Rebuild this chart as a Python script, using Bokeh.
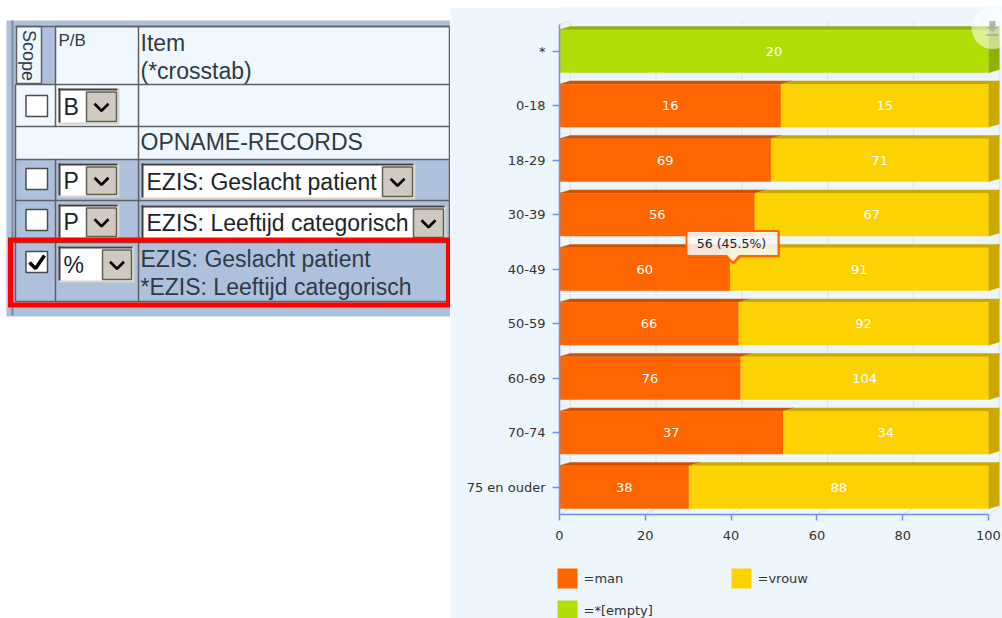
from bokeh.plotting import figure
from bokeh.layouts import row, column
from bokeh.models import Range1d, FixedTicker
from bokeh.core.properties import value
from bokeh.embed import file_html
from bokeh.resources import INLINE

# ---------- chart data ----------
categories = ["*", "0-18", "18-29", "30-39", "40-49", "50-59", "60-69", "70-74", "75 en ouder"]
man = [0, 16, 69, 56, 60, 66, 76, 37, 38]
vrouw = [0, 15, 71, 67, 91, 92, 104, 34, 88]
empty = [20, 0, 0, 0, 0, 0, 0, 0, 0]
x_ticks = [0, 20, 40, 60, 80, 100]
legend_labels = ["=man", "=vrouw", "=*[empty]"]
tooltip_text = "56 (45.5%)"

# ---------- table texts ----------
scope_label = "Scope"
pb_label = "P/B"
item_label = ["Item", "(*crosstab)"]
section_label = "OPNAME-RECORDS"
select_1 = "EZIS: Geslacht patient"
select_2 = "EZIS: Leeftijd categorisch"
crosstab_label = ["EZIS: Geslacht patient", "*EZIS: Leeftijd categorisch"]

BG = "#eef6fd"
BLUE = "#adc1dc"
LIGHT = "#eff7ff"
LINE = "#5d6166"
TXT = "#2f3a44"
ORANGE, YELLOW, GREEN = "#ff6600", "#fcd202", "#b0de09"
D_ORANGE, D_YELLOW, D_GREEN = "#cc5200", "#caa802", "#8db107"
AXIS = "#6e8ff5"
GRIDC = "#dfe5ea"
FONT = value("Liberation Sans")
CFONT = value("DejaVu Sans")

# ---------- left: the form table ----------
t = figure(width=450, height=618, x_range=Range1d(0, 450), y_range=Range1d(618, 0),
           toolbar_location=None, output_backend="svg", min_border=0, frame_align=False,
           background_fill_color="white", border_fill_color="white", outline_line_color=None)
t.axis.visible = False
t.grid.visible = False


def box(x0, x1, y0, y1, fill, line=None, lw=1.0):
    t.quad(left=[x0], right=[x1], top=[y0], bottom=[y1], fill_color=fill,
           line_color=line, line_width=lw)


def txt(x, y, s, size=23, color=TXT, angle=0.0, align="left"):
    t.text(x=[x], y=[y], text=[s], text_font=FONT, text_font_size=f"{size}px",
           text_color=color, text_baseline="middle", text_align=align, angle=angle)


def hline(x0, x1, y, c=LINE, lw=1.5):
    t.line([x0, x1], [y, y], line_color=c, line_width=lw)


def vline(x, y0, y1, c=LINE, lw=1.5):
    t.line([x, x], [y0, y1], line_color=c, line_width=lw)


def checkbox(y0, checked=False):
    box(25.5, 47, y0, y0 + 21, "white", "#4a4d50", 1.5)
    if checked:
        t.line([29, 35, 44], [y0 + 11, y0 + 17, y0 + 4], line_color="black", line_width=3.5)


def select(x0, x1, y0, y1, bx0, s):
    box(x0, x1 + 2, y0, y1 + 2, "#d8d4cc")
    box(x0 + 1, x1, y0, y1, "white")
    hline(x0, x1, y0 + 1, "#3f3f3f", 2)
    vline(x0 + 1, y0, y1, "#3f3f3f", 2)
    box(bx0, x1 - 1, y0 + 3.5, y1 - 1, "#cfc9c0", "#5f5f5a", 1.5)
    cx = (bx0 + x1 - 1) / 2
    cy = (y0 + 3.5 + y1 - 1) / 2
    t.line([cx - 7, cx, cx + 7], [cy - 3, cy + 4, cy - 3], line_color="black", line_width=2.6)
    txt(x0 + 5, (y0 + y1) / 2 + 1, s, 23, "#20242a")


# panel and cells
box(6, 450, 20, 316, BLUE)
vline(12, 20, 315, "#7e8a99", 2)
box(55, 138, 26, 84, LIGHT)
box(138, 449, 26, 84, LIGHT)
box(16, 41, 26, 83, LIGHT, LINE, 1.5)
box(15, 449, 84, 159, LIGHT)
for y in [26, 84, 126, 159, 200, 242, 301]:
    hline(15, 449, y)
hline(55, 449, 26)
vline(15, 84, 301)
vline(449, 26, 301)
vline(55, 26, 126)
vline(55, 159, 301)
vline(138, 26, 301)

# header text
t.text(x=[28], y=[55], text=[scope_label], text_font=FONT, text_font_size="18px", text_color=TXT,
       text_align="center", text_baseline="middle", angle=[-1.5708])
txt(58, 40, pb_label, 17)
txt(140, 42, item_label[0])
txt(140, 70, item_label[1])
txt(140, 141, section_label)

# controls
checkbox(95)
checkbox(168)
checkbox(209)
checkbox(251, True)
select(58, 117, 88, 122, 86, "B")
select(58, 117, 163, 195, 86, "P")
select(58, 117, 204, 237, 86, "P")
select(58, 132, 246, 280, 102, "%")
select(141, 413, 163, 197, 382, select_1)
select(141, 444, 205, 238, 413, select_2)
txt(140, 258, crosstab_label[0])
txt(140, 286, crosstab_label[1])

# red highlight
t.quad(left=[10], right=[448], top=[239.5], bottom=[304.5], fill_color=None,
       line_color="#ff0000", line_width=5, line_join="miter")

# ---------- right: the chart ----------
depth_x = 2.5
depth_y = 0.06
bar_h = 0.79
ys = list(range(len(categories)))

c = figure(width=552, height=544, x_range=Range1d(0, 443 / 4.29), y_range=Range1d(8.5, -0.803),
           toolbar_location=None, output_backend="svg", frame_align=False,
           min_border_left=109, min_border_right=0, min_border_top=0, min_border_bottom=37,
           background_fill_color=BG, border_fill_color=BG, outline_line_color=None,
           margin=(7, 0, 0, 0))
c.grid.visible = False

# back wall lines
for v in x_ticks:
    c.line([v + depth_x, v + depth_x, v], [-0.555, 8.38, 8.5], line_color=GRIDC, line_width=1.2)
c.line([0, depth_x], [-0.5, -0.555], line_color=GRIDC, line_width=1.2)

pct_man = [100 * m / (m + w + e) for m, w, e in zip(man, vrouw, empty)]
pct_vrouw = [100 * w / (m + w + e) for m, w, e in zip(man, vrouw, empty)]
pct_empty = [100 * e / (m + w + e) for m, w, e in zip(man, vrouw, empty)]


def top_face(x0, x1, y, col):
    t0 = y - bar_h / 2
    c.patch([x0, x0 + depth_x, x1 + depth_x, x1], [t0, t0 - depth_y, t0 - depth_y, t0],
            fill_color=col, line_color=col, line_width=0.5)


def side_face(x1, y, col):
    t0, b0 = y - bar_h / 2, y + bar_h / 2
    c.patch([x1, x1 + depth_x, x1 + depth_x, x1],
            [t0, t0 - depth_y, b0 - depth_y, b0],
            fill_color=col, line_color=col, line_width=0.5)


for i, y in enumerate(ys):
    if pct_man[i] > 0:
        top_face(0, pct_man[i], y, D_ORANGE)
    if pct_vrouw[i] > 0:
        top_face(pct_man[i], 100, y, D_YELLOW)
        side_face(100, y, D_YELLOW)
    if pct_empty[i] > 0:
        top_face(0, 100, y, D_GREEN)
        side_face(100, y, D_GREEN)

c.hbar(y=ys, left=[0] * 9, right=pct_man, height=bar_h, fill_color=ORANGE, line_color=None)
c.hbar(y=ys, left=pct_man, right=[a + b for a, b in zip(pct_man, pct_vrouw)], height=bar_h,
       fill_color=YELLOW, line_color=None)
c.hbar(y=ys, left=[0] * 9, right=pct_empty, height=bar_h, fill_color=GREEN, line_color=None)

# value labels
lx, ly, lt = [], [], []
start = [0.0] * 9
for vals, pcts in [(man, pct_man), (vrouw, pct_vrouw), (empty, pct_empty)]:
    for i, (v, p_) in enumerate(zip(vals, pcts)):
        if v > 0:
            lx.append(start[i] + p_ / 2)
            ly.append(ys[i])
            lt.append(str(v))
            start[i] += p_
c.text(x=lx, y=ly, text=lt, text_font=CFONT, text_font_size="13px", text_color="white",
       text_align="center", text_baseline="middle")


def px_x(px):
    return (px - 559) / 4.29


def px_y(py):
    return (py - 51.25) / 54.5


# tooltip
tx = [686, 778, 778, 739, 732.5, 726, 686]
ty = [231, 231, 256, 256, 263, 256, 256]
c.patch([px_x(v + 1.5) for v in tx], [px_y(v + 1.5) for v in ty], fill_color="black", fill_alpha=0.2,
        line_color=None)
c.patch([px_x(v) for v in tx], [px_y(v) for v in ty], fill_color="white", fill_alpha=0.85,
        line_color=ORANGE, line_width=2)
c.text(x=[px_x(731)], y=[px_y(243)], text=[tooltip_text], text_font=CFONT, text_font_size="12.5px",
       text_color="#222222", text_align="center", text_baseline="middle")

# download button
c.scatter(x=[px_x(992)], y=[px_y(28)], size=42, fill_color="white", fill_alpha=0.55, line_color=None)
c.quad(left=[px_x(989)], right=[px_x(995)], top=[px_y(21)], bottom=[px_y(27)], fill_color="#aeb4a6",
       line_color=None)
c.patch([px_x(986), px_x(998), px_x(992)], [px_y(27), px_y(27), px_y(32)], fill_color="#aeb4a6",
        line_color=None)
c.quad(left=[px_x(986)], right=[px_x(998)], top=[px_y(34)], bottom=[px_y(36)], fill_color="#aeb4a6",
       line_color=None)

# axes
xa = c.xaxis[0]
xa.ticker = FixedTicker(ticks=x_ticks)
xa.bounds = (0, 100)
ya = c.yaxis[0]
ya.ticker = FixedTicker(ticks=ys)
ya.major_label_overrides = {i: s for i, s in enumerate(categories)}
ya.bounds = (-0.5, 8.5)
for a, tick_out, stand in [(xa, 6, 10), (ya, 7, 7)]:
    a.axis_line_color = AXIS
    a.axis_line_width = 1.5
    a.major_tick_line_color = AXIS
    a.major_tick_line_width = 1.5
    a.major_tick_out = tick_out
    a.major_tick_in = 0
    a.minor_tick_line_color = None
    a.major_label_standoff = stand
    a.major_label_text_font = "DejaVu Sans"
    a.major_label_text_font_size = "13px"
    a.major_label_text_color = "#333333"

# ---------- legend strip (page y 550 to 618, overlapping the chart by one pixel) ----------
lg = figure(width=552, height=68, x_range=Range1d(450, 1002), y_range=Range1d(618, 550),
            toolbar_location=None, output_backend="svg", min_border=0, frame_align=False,
            background_fill_color=BG, border_fill_color=BG, outline_line_color=None,
            margin=(-1, 0, 0, 0))
lg.axis.visible = False
lg.grid.visible = False
for (sx, sy), col, lab in zip([(557, 568), (731, 568), (557, 600)], [ORANGE, YELLOW, GREEN], legend_labels):
    lg.quad(left=[sx], right=[sx + 20], top=[sy], bottom=[sy + 20], fill_color=col, line_color=None)
    lg.text(x=[sx + 26], y=[sy + 10], text=[lab], text_font=CFONT, text_font_size="13px",
            text_color="#333333", text_baseline="middle")

out = row(t, column(c, lg, spacing=0), spacing=0)
open("out.html", "w").write(file_html(out, INLINE))
